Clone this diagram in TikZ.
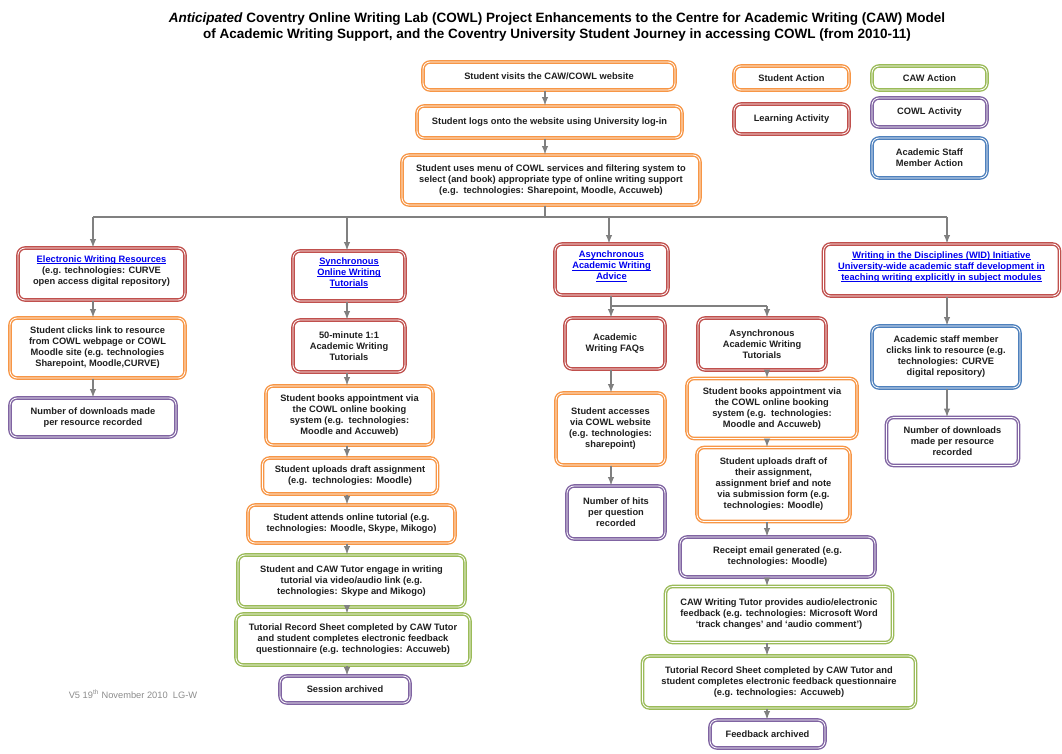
\documentclass[tikz,border=0pt]{standalone}
\usepackage{fontspec}
\setmainfont{Liberation Sans}
\usepackage{tikz}
\usetikzlibrary{positioning}

\definecolor{stuorange}{RGB}{247,150,70}
\definecolor{learnred}{RGB}{192,80,77}
\definecolor{cawgreen}{RGB}{155,187,89}
\definecolor{cowlpurple}{RGB}{128,100,162}
\definecolor{staffblue}{RGB}{79,129,189}
\definecolor{arrgray}{RGB}{128,128,128}
\definecolor{linkblue}{RGB}{0,0,238}
\definecolor{notegray}{RGB}{140,140,140}

\newcommand{\lnk}[1]{\textcolor{linkblue}{\underline{\smash{#1}}}}

\begin{document}
\begin{tikzpicture}
    [
    x=1pt, y=-1pt,
    box/.style={rounded corners=7pt, align=center, inner sep=2pt, text=black!88,
      font=\bfseries\fontsize{9.3}{11}\selectfont,
      line width=1.4pt, double=white, double distance=0.8pt},
    wh/.style 2 args={minimum width=#1pt, minimum height=#2pt},
    student/.style={box, draw=stuorange},
    learning/.style={box, draw=learnred},
    caw/.style={box, draw=cawgreen},
    cowl/.style={box, draw=cowlpurple},
    staff/.style={box, draw=staffblue},
    arr/.style={-latex, draw=arrgray, line width=1.8pt},
    conn/.style={draw=arrgray, line width=1.8pt}
    ]
    \useasboundingbox (0,0) rectangle (1062,753);

    \node (title) at (557,27) [align=center, font=\bfseries\fontsize{13.5}{16.5}\selectfont]
      {\textit{Anticipated} Coventry Online Writing Lab (COWL) Project Enhancements to the Centre for Academic Writing (CAW) Model\\
       of Academic Writing Support, and the Coventry University Student Journey in accessing COWL (from 2010-11)};

    \node (visit) at (549,76) [student, wh={252}{28}] {Student visits the CAW/COWL website};
    \node (login) at (549.5,122) [student, wh={265}{32}] {Student logs onto the website using University log-in};
    \node (menu) at (551,180) [student, wh={298}{50}] {Student uses menu of COWL services and filtering system to\\select (and book) appropriate type of online writing support\\(e.g.\ \ technologies: Sharepoint, Moodle, Accuweb)};

    \node (legstu) at (791.5,78) [student, wh={115}{24}] {Student Action};
    \node (legcaw) at (929.5,78) [caw, wh={115}{24}] {CAW Action};
    \node (leglearn) at (791.5,119) [learning, wh={115}{30}] {Learning Activity};
    \node (legcowl) at (929.5,112.5) [cowl, wh={115}{29}] {COWL Activity};
    \node (legstaff) at (929.5,158) [staff, wh={115}{40}] {Academic Staff\\Member Action};

    \node (elec) at (101.5,274) [learning, wh={167}{52}] {\lnk{Electronic Writing Resources}\\(e.g. technologies: CURVE\\open access digital repository)};
    \node (clicks) at (97.5,348) [student, wh={175}{60}] {Student clicks link to resource\\from COWL webpage or COWL\\Moodle site (e.g. technologies\\Sharepoint, Moodle,CURVE)};
    \node (dlres) at (93,417.5) [cowl, wh={166}{39}] {Number of downloads made\\per resource recorded};

    \node (synch) at (349,276) [learning, wh={112}{50}] {\lnk{Synchronous}\\\lnk{Online Writing}\\\lnk{Tutorials}};
    \node (onetoone) at (349,346) [learning, wh={112}{52}] {50-minute 1:1\\Academic Writing\\Tutorials};
    \node (books) at (349.5,415.5) [student, wh={167}{59}] {Student books appointment via\\the COWL online booking\\system (e.g.\ \ technologies:\\Moodle and Accuweb)};
    \node (uploads) at (350,476) [student, wh={175}{36}] {Student uploads draft assignment\\(e.g.\ \ technologies: Moodle)};
    \node (attends) at (351.5,524) [student, wh={207}{38}] {Student attends online tutorial (e.g.\\technologies: Moodle, Skype, Mikogo)};
    \node (engage) at (351.5,581) [caw, wh={227}{52}] {Student and CAW Tutor engage in writing\\tutorial via video/audio link (e.g.\\technologies: Skype and Mikogo)};
    \node (record) at (353,639.5) [caw, wh={234}{51}] {Tutorial Record Sheet completed by CAW Tutor\\and student completes electronic feedback\\questionnaire (e.g. technologies: Accuweb)};
    \node (session) at (345,689.5) [cowl, wh={130}{27}] {Session archived};

    \node (advice) at (611.5,269.5) [learning, wh={113}{51}] {\lnk{Asynchronous}\\\lnk{Academic Writing}\\\lnk{Advice}};
    \node (faq) at (615,343.5) [learning, wh={100}{51}] {Academic\\Writing FAQs};
    \node (asynctut) at (762,344) [learning, wh={128}{52}] {Asynchronous\\Academic Writing\\Tutorials};
    \node (accesses) at (610.5,429) [student, wh={109}{72}] {Student accesses\\via COWL website\\(e.g. technologies:\\sharepoint)};
    \node (hits) at (616,512.5) [cowl, wh={98}{53}] {Number of hits\\per question\\recorded};
    \node (abooks) at (772,408.5) [student, wh={170}{60}] {Student books appointment via\\the COWL online booking\\system (e.g.\ \ technologies:\\Moodle and Accuweb)};
    \node (auploads) at (773.5,484.5) [student, wh={153}{74}] {Student uploads draft of\\their assignment,\\assignment brief and note\\via submission form (e.g.\\technologies: Moodle)};
    \node (receipt) at (777.5,557) [cowl, wh={195}{40}] {Receipt email generated (e.g.\\technologies: Moodle)};
    \node (tutorfb) at (779,614.5) [caw, wh={227}{56}] {CAW Writing Tutor provides audio/electronic\\feedback (e.g. technologies: Microsoft Word\\‘track changes’ and ‘audio comment’)};
    \node (arecord) at (779,682) [caw, wh={273}{52}] {Tutorial Record Sheet completed by CAW Tutor and\\student completes electronic feedback questionnaire\\(e.g. technologies: Accuweb)};
    \node (fbarch) at (767.5,734) [cowl, wh={115}{28}] {Feedback archived};

    \node (wid) at (941.5,270) [learning, wh={236}{52}] {\lnk{Writing in the Disciplines (WID) Initiative}\\\lnk{University-wide academic staff development in}\\\lnk{teaching writing explicitly in subject modules}};
    \node (staffclick) at (946,357) [staff, wh={148}{62}] {Academic staff member\\clicks link to resource (e.g.\\technologies: CURVE\\digital repository)};
    \node (dlstaff) at (952.5,441.5) [cowl, wh={132}{48}] {Number of downloads\\made per resource\\recorded};

    \node (note) at (133,694) [text=notegray, font=\fontsize{9.3}{11}\selectfont] {V5 19\textsuperscript{th} November 2010\ \ LG-W};

    \coordinate (c0) at (545,0);
    \coordinate (hub) at (545,217);
    \coordinate (h1) at (93,217);
    \coordinate (h2) at (347,217);
    \coordinate (h3) at (609,217);
    \coordinate (h4) at (947,217);
    \coordinate (split) at (611,306);
    \coordinate (s2) at (767,306);

    \draw [arr] (visit.south -| c0) to (login.north -| c0);
    \draw [arr] (login.south -| c0) to (menu.north -| c0);
    \draw [conn] (menu.south -| c0) to (hub);
    \draw [conn] (h1) to (h4);
    \draw [arr] (h1) to (elec.north -| h1);
    \draw [arr] (h2) to (synch.north -| h2);
    \draw [arr] (h3) to (advice.north -| h3);
    \draw [arr] (h4) to (wid.north -| h4);

    \draw [arr] (elec.south -| h1) to (clicks.north -| h1);
    \draw [arr] (clicks.south -| h1) to (dlres.north -| h1);

    \draw [arr] (synch.south -| h2) to (onetoone.north -| h2);
    \draw [arr] (onetoone.south -| h2) to (books.north -| h2);
    \draw [arr] (books.south -| h2) to (uploads.north -| h2);
    \draw [arr] (uploads.south -| h2) to (attends.north -| h2);
    \draw [arr] (attends.south -| h2) to (engage.north -| h2);
    \draw [arr] (engage.south -| h2) to (record.north -| h2);
    \draw [arr] (record.south -| h2) to (session.north -| h2);

    \draw [conn] (advice.south -| split) to (split) to (s2);
    \draw [arr] (split) to (faq.north -| split);
    \draw [arr] (s2) to (asynctut.north -| s2);
    \draw [arr] (faq.south -| split) to (accesses.north -| split);
    \draw [arr] (accesses.south -| split) to (hits.north -| split);
    \draw [arr] (asynctut.south -| s2) to (abooks.north -| s2);
    \draw [arr] (abooks.south -| s2) to (auploads.north -| s2);
    \draw [arr] (auploads.south -| s2) to (receipt.north -| s2);
    \draw [arr] (receipt.south -| s2) to (tutorfb.north -| s2);
    \draw [arr] (tutorfb.south -| s2) to (arecord.north -| s2);
    \draw [arr] (arecord.south -| s2) to (fbarch.north -| s2);

    \draw [arr] (wid.south -| h4) to (staffclick.north -| h4);
    \draw [arr] (staffclick.south -| h4) to (dlstaff.north -| h4);
  \end{tikzpicture}
\end{document}
